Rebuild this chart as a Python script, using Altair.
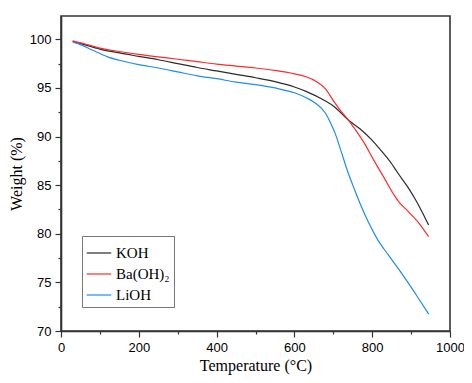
import altair as alt
import pandas as pd

series_names = ["KOH", "Ba(OH)₂", "LiOH"]
series_colors = ["#2b2b2b", "#ff2a2a", "#1e8cf0"]

koh_t = [30, 60, 100, 150, 200, 250, 300, 350, 400, 450, 500, 550, 600, 630, 680, 700,
         740, 770, 800, 822, 850, 865, 895, 910, 925, 945]
koh_w = [99.8, 99.45, 99.0, 98.6, 98.25, 97.9, 97.5, 97.1, 96.75, 96.4, 96.05, 95.65, 95.1,
         94.65, 93.65, 93.15, 91.65, 90.75, 89.6, 88.6, 87.2, 86.3, 84.6, 83.6, 82.5, 80.9]

ba_t = [30, 60, 100, 150, 200, 250, 300, 350, 400, 450, 500, 550, 600, 630, 655, 680, 700,
        720, 740, 755, 780, 805, 830, 856, 870, 890, 920, 945]
ba_w = [99.85, 99.55, 99.1, 98.75, 98.45, 98.2, 97.95, 97.7, 97.45, 97.25, 97.05, 96.8, 96.45,
        96.15, 95.7, 94.9, 93.7, 92.6, 91.65, 90.8, 89.3, 87.5, 85.8, 84.0, 83.2, 82.4, 81.1, 79.7]

li_t = [30, 50, 80, 120, 150, 200, 250, 300, 350, 400, 450, 500, 550, 600, 630, 655, 680,
        693, 705, 720, 737, 755, 771, 790, 814, 840, 864, 890, 915, 945]
li_w = [99.7, 99.45, 98.9, 98.2, 97.85, 97.4, 97.05, 96.65, 96.25, 95.95, 95.6, 95.35, 95.0,
        94.5, 94.0, 93.4, 92.4, 91.4, 90.3, 88.5, 86.4, 84.5, 82.9, 81.2, 79.4, 77.9, 76.6,
        75.1, 73.6, 71.75]

x_ticks = [0, 100, 200, 300, 400, 500, 600, 700, 800, 900, 1000]
y_ticks = [70, 72.5, 75, 77.5, 80, 82.5, 85, 87.5, 90, 92.5, 95, 97.5, 100]

rows = []
for name, ts, ws in zip(series_names, [koh_t, ba_t, li_t], [koh_w, ba_w, li_w]):
    for t, w in zip(ts, ws):
        rows.append({"Temperature": t, "Weight": w, "Sample": name})
df = pd.DataFrame(rows)

axis_common = dict(
    grid=False,
    domainColor="#333333",
    domainWidth=1.6,
    tickColor="#333333",
    tickWidth=1.2,
    labelFont="Liberation Sans",
    labelFontSize=13,
    labelColor="#000000",
    titleFont="Liberation Serif",
    titleFontSize=16,
    titleFontWeight="normal",
    titleColor="#000000",
)

x_axis = alt.Axis(
    title="Temperature (°C)",
    values=x_ticks,
    tickSize={"condition": {"test": "datum.value % 200 != 0", "value": 3}, "value": 6},
    labelExpr="datum.value % 200 == 0 ? format(datum.value, 'd') : ''",
    labelPadding=4,
    labelFlush=False,
    titlePadding=3,
    **axis_common,
)
y_axis = alt.Axis(
    title="Weight (%)",
    values=y_ticks,
    tickSize={"condition": {"test": "datum.value % 5 != 0", "value": 3}, "value": 6},
    labelExpr="datum.value % 5 == 0 ? datum.label : ''",
    labelPadding=4,
    labelFlush=False,
    titlePadding=5,
    **axis_common,
)

chart = (
    alt.Chart(df)
    .mark_line(strokeWidth=1.2, interpolate="monotone")
    .encode(
        x=alt.X("Temperature:Q", scale=alt.Scale(domain=[0, 1000], nice=False), axis=x_axis),
        y=alt.Y("Weight:Q", scale=alt.Scale(domain=[70, 102.4], nice=False, zero=False), axis=y_axis),
        color=alt.Color(
            "Sample:N",
            scale=alt.Scale(domain=series_names, range=series_colors),
            legend=alt.Legend(
                title=None,
                orient="none",
                legendX=21,
                legendY=220,
                symbolType="stroke",
                symbolSize=600,
                symbolStrokeWidth=1.2,
                labelFont="Liberation Serif",
                labelFontSize=15,
                labelColor="#000000",
                strokeColor="#777777",
                fillColor="#ffffff",
                padding=4,
                rowPadding=0,
                labelOffset=4,
            ),
        ),
    )
    .properties(
        width=389,
        height=315,
        autosize=alt.AutoSizeParams(type="none"),
        padding={"left": 53, "top": 8, "right": 14, "bottom": 44},
    )
    .configure_view(stroke="#333333", strokeWidth=1.6)
)

chart.save("out.html", embed_options={"renderer": "svg", "actions": False})
